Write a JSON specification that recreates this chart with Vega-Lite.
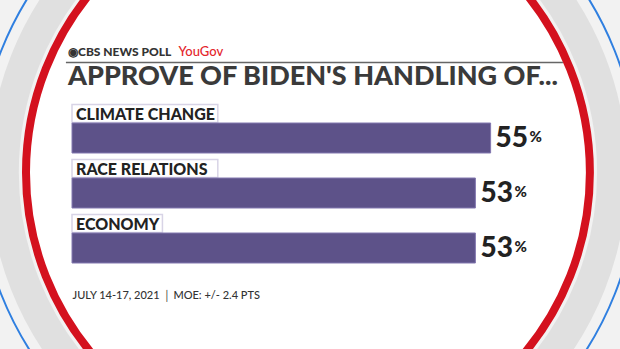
{
  "$schema": "https://vega.github.io/schema/vega-lite/v6.json",
  "autosize": {"type": "none"},
  "width": 548,
  "height": 165,
  "padding": {"left": 72, "top": 100, "right": 0, "bottom": 84},
  "background": "#f2f2f2",
  "config": {"view": {"stroke": null}, "font": "Lato"},
  "datasets": {
    "poll": [
      {"issue": "CLIMATE CHANGE", "approve": 55},
      {"issue": "RACE RELATIONS", "approve": 53},
      {"issue": "ECONOMY", "approve": 53}
    ],
    "one": [{"item": "decoration"}]
  },
  "layer": [
    {
      "data": {"name": "one"},
      "mark": {"type": "point", "shape": "circle", "filled": false, "size": 370000, "stroke": "#e0e0e0", "strokeWidth": 30, "opacity": 1, "yOffset": 45},
      "encoding": {"x": {"datum": 31, "type": "quantitative"}, "y": {"datum": "CLIMATE CHANGE", "type": "nominal"}}
    },
    {
      "data": {"name": "one"},
      "mark": {"type": "point", "shape": "circle", "filled": true, "fill": "#ffffff", "size": 318000, "stroke": "#d4111e", "strokeWidth": 8, "opacity": 1, "yOffset": 45},
      "encoding": {"x": {"datum": 31, "type": "quantitative"}, "y": {"datum": "CLIMATE CHANGE", "type": "nominal"}}
    },
    {
      "data": {"name": "one"},
      "mark": {"type": "point", "shape": "circle", "filled": false, "size": 435600, "stroke": "#2f7fe0", "strokeWidth": 2, "opacity": 1, "yOffset": 45},
      "encoding": {"x": {"datum": 31, "type": "quantitative"}, "y": {"datum": "CLIMATE CHANGE", "type": "nominal"}}
    },
    {
      "data": {"name": "one"},
      "transform": [{"calculate": "-0.8", "as": "lineStart"}, {"calculate": "64.5", "as": "lineEnd"}],
      "mark": {"type": "rule", "color": "#666666", "strokeWidth": 1.5, "yOffset": -65},
      "encoding": {"x": {"field": "lineStart", "type": "quantitative"}, "x2": {"field": "lineEnd"}, "y": {"datum": "CLIMATE CHANGE", "type": "nominal"}}
    },
    {
      "data": {"name": "one"},
      "mark": {"type": "text", "align": "left", "baseline": "alphabetic", "dx": -4, "yOffset": -71.5, "font": "Lato", "fontSize": 12, "fontWeight": 900, "color": "#333333"},
      "encoding": {"x": {"datum": 0, "type": "quantitative"}, "y": {"datum": "CLIMATE CHANGE", "type": "nominal"}, "text": {"value": "◉CBS NEWS POLL"}}
    },
    {
      "data": {"name": "one"},
      "mark": {"type": "text", "align": "left", "baseline": "alphabetic", "yOffset": -71.5, "font": "Lato", "fontSize": 13, "fontWeight": 500, "color": "#e4262c"},
      "encoding": {"x": {"datum": 14.0, "type": "quantitative"}, "y": {"datum": "CLIMATE CHANGE", "type": "nominal"}, "text": {"value": "YouGov"}}
    },
    {
      "data": {"name": "one"},
      "mark": {"type": "text", "align": "left", "baseline": "alphabetic", "dx": -4, "yOffset": -43, "font": "Lato", "fontSize": 27, "fontWeight": 900, "color": "#3a3a3a"},
      "encoding": {"x": {"datum": 0, "type": "quantitative"}, "y": {"datum": "CLIMATE CHANGE", "type": "nominal"}, "text": {"value": "APPROVE OF BIDEN'S HANDLING OF..."}}
    },
    {
      "data": {"name": "poll"},
      "transform": [{"calculate": "(length(datum.issue) * 7.9 + 35) / 7.6", "as": "boxEnd"}],
      "mark": {"type": "bar", "height": 18, "yOffset": -14, "fill": "#ffffff", "stroke": "#d8d4e6", "strokeWidth": 1.5},
      "encoding": {
        "x": {"field": "boxEnd", "type": "quantitative"},
        "y": {"field": "issue", "type": "nominal", "sort": null}
      }
    },
    {
      "data": {"name": "poll"},
      "mark": {"type": "text", "align": "left", "baseline": "middle", "dx": 4, "yOffset": -13, "font": "Lato", "fontSize": 16, "fontWeight": 900, "color": "#222222"},
      "encoding": {
        "x": {"datum": 0, "type": "quantitative"},
        "y": {"field": "issue", "type": "nominal", "sort": null},
        "text": {"field": "issue"}
      }
    },
    {
      "data": {"name": "poll"},
      "mark": {"type": "bar", "height": 30, "yOffset": 10.5, "color": "#5d5289", "stroke": "#8378b0", "strokeWidth": 1},
      "encoding": {
        "x": {
          "field": "approve",
          "type": "quantitative",
          "scale": {"domain": [0, 72], "nice": false, "zero": true},
          "axis": {"zindex": 2, "labels": false, "ticks": false, "domain": false, "grid": false, "title": "JULY 14-17, 2021 │ MOE: +/- 2.4 PTS", "titleAnchor": "start", "titleFont": "Lato", "titleFontSize": 11, "titleFontWeight": 500, "titleColor": "#333333", "titlePadding": 24}
        },
        "y": {
          "field": "issue",
          "type": "nominal",
          "sort": null,
          "scale": {"paddingInner": 0, "paddingOuter": 0},
          "axis": {"labels": false, "ticks": false, "domain": false, "grid": false, "title": null}
        }
      }
    },
    {
      "data": {"name": "poll"},
      "mark": {"type": "text", "align": "left", "baseline": "middle", "dx": 5, "yOffset": 11.5, "font": "Lato", "fontSize": 28, "fontWeight": 900, "color": "#222222"},
      "encoding": {
        "x": {"field": "approve", "type": "quantitative"},
        "y": {"field": "issue", "type": "nominal", "sort": null},
        "text": {"field": "approve"}
      }
    },
    {
      "data": {"name": "poll"},
      "mark": {"type": "text", "align": "left", "baseline": "alphabetic", "dx": 39, "yOffset": 14, "font": "Lato", "fontSize": 15, "fontWeight": 900, "color": "#222222"},
      "encoding": {
        "x": {"field": "approve", "type": "quantitative"},
        "y": {"field": "issue", "type": "nominal", "sort": null},
        "text": {"value": "%"}
      }
    }
  ]
}
